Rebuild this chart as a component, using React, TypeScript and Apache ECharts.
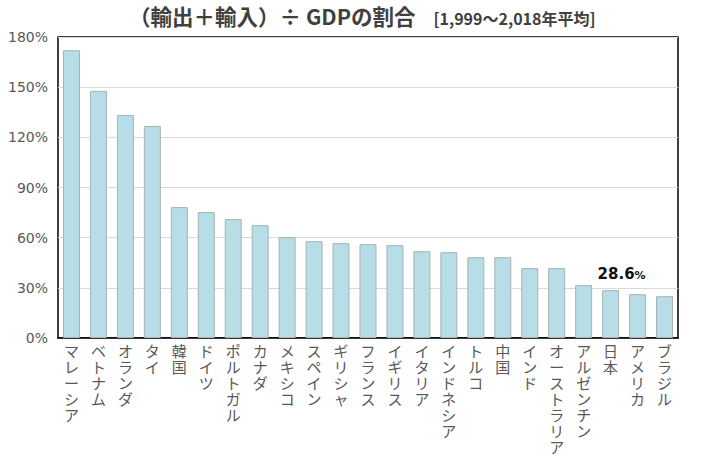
import React, { useEffect, useRef } from "react";
import * as echarts from "echarts";

const categories = [
  "マレーシア", "ベトナム", "オランダ", "タイ", "韓国", "ドイツ", "ポルトガル", "カナダ",
  "メキシコ", "スペイン", "ギリシャ", "フランス", "イギリス", "イタリア", "インドネシア",
  "トルコ", "中国", "インド", "オーストラリア", "アルゼンチン", "日本", "アメリカ", "ブラジル",
];
const values = [
  172.1, 147.8, 133.4, 126.8, 78.3, 75.3, 71.1, 67.5,
  60.3, 57.9, 56.7, 56.1, 55.5, 51.9, 51.3,
  48.3, 48.3, 41.8, 41.8, 31.6, 28.6, 26.2, 25.0,
];
const highlightCategory = "日本";
const yTicks = [0, 30, 60, 90, 120, 150, 180];
const titleMain = "（輸出＋輸入）÷ GDPの割合";
const titleSub = "[1,999～2,018年平均]";

export default function App() {
  const ref = useRef<HTMLDivElement>(null);
  useEffect(() => {
    if (!ref.current) return;
    const chart = echarts.init(ref.current, null, { renderer: "svg" });
    const data = values.map((v, i) => {
      if (categories[i] === highlightCategory) {
        return {
          value: v,
          label: {
            show: true,
            position: "top",
            offset: [11, -4],
            formatter: (p: any) => `{a|${p.value.toFixed(1)}}{b|%}`,
            rich: {
              a: { fontSize: 15, fontWeight: "bold", color: "#111", fontFamily: "DejaVu Sans" },
              b: { fontSize: 11, fontWeight: "bold", color: "#111", fontFamily: "DejaVu Sans", padding: [3, 0, 0, 0] },
            },
          },
        };
      }
      return v;
    });
    chart.setOption({
      animation: false,
      title: {
        text: `{a|${titleMain}}{b|${titleSub}}`,
        left: 124,
        top: 0,
        textStyle: {
          rich: {
            a: { fontSize: 21.5, fontWeight: "bold", color: "#404040", fontFamily: "Noto Sans CJK JP" },
            b: { fontSize: 16, fontWeight: "bold", color: "#404040", fontFamily: "Noto Sans CJK JP", padding: [4, 0, 0, 18] },
          },
        },
      },
      grid: {
        left: 58,
        right: 46,
        top: 37,
        bottom: 124,
        show: true,
        borderColor: "#000",
        borderWidth: 1.5,
        containLabel: false,
      },
      xAxis: {
        type: "category",
        data: categories,
        axisLine: { show: true, lineStyle: { color: "#000", width: 1.5 } },
        axisTick: { show: false },
        axisLabel: {
          interval: 0,
          color: "#595959",
          fontSize: 15,
          lineHeight: 16,
          fontFamily: "Noto Sans CJK JP",
          margin: 4,
          verticalAlign: "top",
          formatter: (v: string) => v.split("").join("\n"),
        },
      },
      yAxis: {
        type: "value",
        min: yTicks[0],
        max: yTicks[yTicks.length - 1],
        interval: 30,
        axisLine: { show: false },
        axisTick: { show: false },
        splitLine: { lineStyle: { color: "#d9d9d9", width: 1 } },
        axisLabel: {
          color: "#595959",
          fontSize: 14,
          fontFamily: "DejaVu Sans",
          margin: 10,
          formatter: (v: number) => `${v}%`,
        },
      },
      series: [
        {
          type: "bar",
          data,
          barCategoryGap: "37%",
          itemStyle: { color: "#b7dde6", borderColor: "#a6b2b6", borderWidth: 1 },
        },
      ],
    });
    return () => chart.dispose();
  }, []);
  return (
    <div
      ref={ref}
      style={{ position: "absolute", left: 0, top: 0, width: 724, height: 462 }}
    />
  );
}
